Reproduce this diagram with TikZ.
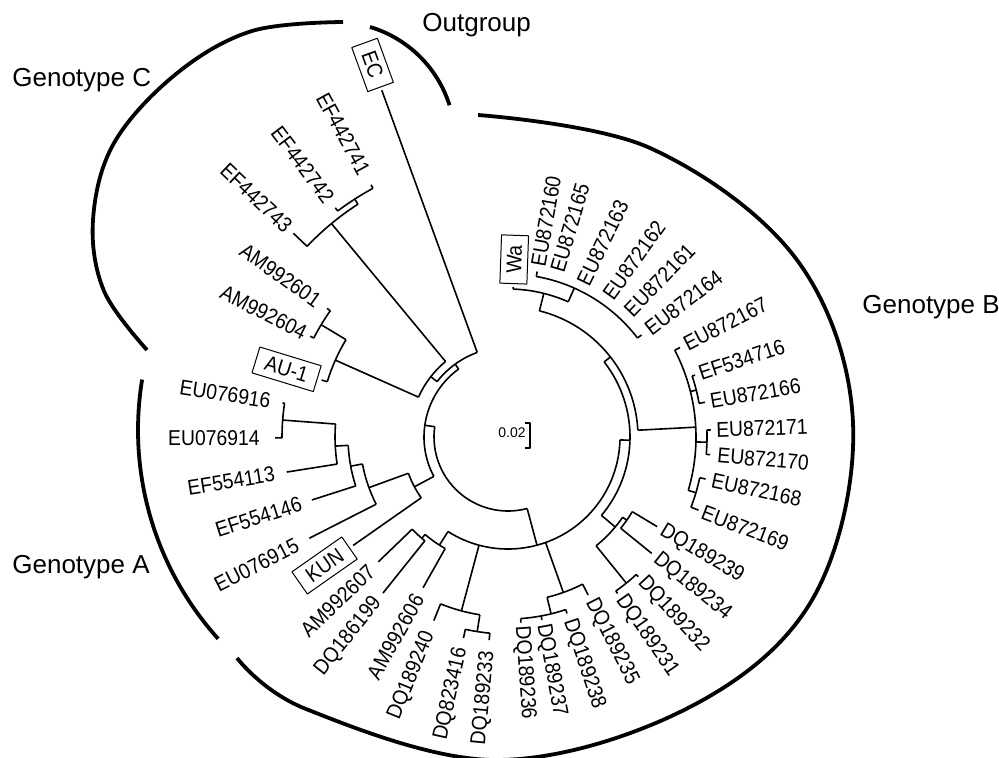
\documentclass[tikz,border=0pt]{standalone}
\usepackage{fontspec}
\setmainfont{Liberation Sans}
\newfontfamily\tipfont[FakeStretch=0.9]{Liberation Sans}
\begin{document}
\begin{tikzpicture}[x=0.5pt,y=0.5pt,line join=round]
\tikzset{
  branch/.style={line width=0.8pt},
  bracket/.style={line width=1.9pt},
  tip/.style={font=\tipfont\fontsize{10.75}{12}\selectfont, inner sep=0pt},
  tipbox/.style={tip, draw, line width=0.5pt, inner xsep=5pt, inner ysep=3pt},
  group/.style={font=\fontsize{13}{15}\selectfont, inner sep=0pt, anchor=base west}
}
\useasboundingbox (0,0) rectangle (999,757);
\clip (0,0) rectangle (999,757);

\coordinate (O) at (508,320);

% genotype brackets
\draw[bracket] plot[smooth, tension=0.6] coordinates {(343,735) (252,726) (176,683)
  (114,614) (93,537) (104,466) (147,407)};
\draw[bracket] (336,616) ++(17.5:119) arc[start angle=17.5, end angle=73.4, radius=119];
\draw[bracket] (450,327) ++(170.7:312) arc[start angle=170.7, end angle=222, radius=312];
\draw[bracket] plot[smooth, tension=0.6] coordinates {(478,642) (650,609) (797,497)
  (853,334) (812,157) (686,48) (496,-3) (306,48) (237,99)};

\node[group] (gC) at (12,670) {Genotype C};
\node[group] (out) at (422,725) {Outgroup};
\node[group] (gB) at (862,444) {Genotype B};
\node[group] (gA) at (12,184) {Genotype A};

\begin{scope}[shift={(O)}]
% stems
\foreach \a/\ra/\rb in {66/148/163, 76/130/148, 3/130/188, 14/188/194, -1.5/188/199,
  -16.5/188/196, 38/122/130, -40/122/140, -35/140/145, -51/140/188, -1.5/112/122,
  289.6/112/165, 283.7/165/182, 255/112/180, 261/180/197, 237.6/112/128, 229.6/128/133,
  285/74/112, 172/74/84, 126/84/90, 142/90/98, 129.6/98/277, 122.8/277/283, 156/98/189,
  149/189/218, 208/84/106, 200/106/148, 190.5/148/160, 183/160/173, 175.7/173/226}
  \draw[branch] (\a:\ra) -- (\a:\rb);
% node arcs
\foreach \r/\a/\b in {163/37.4/80, 148/66/88, 130/3/76, 188/-16.5/27.5, 194/10/18.3,
  199/-5/2, 196/-21/-12, 122/-40/38, 140/-51/-35, 145/-39/-31, 188/-55/-47,
  112/237.6/358.5, 165/283.7/296.9, 182/274/288.5, 180/248/261, 197/257.5/264.7,
  128/229.6/240.6, 133/223.9/231.3, 74/172/285, 84/126/208, 90/110/142, 98/129.6/156,
  277/122.8/136.5, 283/118.5/127, 189/149/163, 218/144.6/153, 106/200/215,
  148/190.5/207, 160/183/197.8, 173/175.7/189, 226/171.4/180.2}
  \draw[branch] (\a:\r) arc[start angle=\a, end angle=\b, radius=\r];

% leaves, right half
\foreach \n/\a/\rp/\rt/\rl in {EU872160/80/163/168/173, EU872165/73.5/163/163/172,
  EU872163/64/163/163/170, EU872162/54.5/163/163/171, EU872161/46/163/163/172,
  EU872164/37.4/163/168/175, EU872167/27.5/188/194/199, EF534716/18.3/194/197/201,
  EU872166/10/194/200/205, EU872171/2/199/203/208, EU872170/-5/199/203/210,
  EU872168/-12/196/202/208, EU872169/-21/196/204/208, DQ189239/-31/145/174/179,
  DQ189234/-39/145/185/190, DQ189232/-47/188/191/195, DQ189231/-55/188/191/195,
  DQ189235/-63.1/165/177/182, DQ189238/-71.5/182/186/192, DQ189237/-79.5/182/186/190,
  DQ189236/-86/182/186/189}{
  \draw[branch] (\a:\rp) -- (\a:\rt);
  \node[tip, anchor=west, rotate=\a] (\n) at (\a:\rl) {\n};
}
% leaves, left half
\foreach \n/\a/\rp/\rt/\rl in {DQ189233/264.7/197/204/215, DQ823416/257.5/197/206/216,
  DQ189240/248/180/198/210, AM992606/240.6/128/173/182, DQ186199/231.3/133/200/208,
  AM992607/223.9/133/180/189, EU076915/207/148/223/236, EF554146/197.8/160/206/217,
  EF554113/189/173/224/236, EU076914/180.2/226/233/248, EU076916/171.4/226/228/240,
  AM992604/153/218/222/227, AM992601/144.6/218/222/232, EF442743/136.5/277/296/302,
  EF442742/127/283/287/296, EF442741/118.5/283/287/300}{
  \draw[branch] (\a:\rp) -- (\a:\rt);
  \node[tip, anchor=east, rotate=\a+180] (\n) at (\a:\rl) {\n};
}
% reference strains
\draw[branch] (88:148) -- (88:150);
\node[tipbox, anchor=west, rotate=88] (Wa) at (88:153) {Wa};
\draw[branch] (215:106) -- (215:189);
\node[tipbox, anchor=east, rotate=35] (KUN) at (215:193) {KUN};
\draw[branch] (163:189) -- (163:195);
\node[tipbox, anchor=east, rotate=343] (AU-1) at (163:199) {AU-1};
\draw[branch] (110:90) -- (110:369);
\node[tipbox, anchor=east, rotate=290] (EC) at (110:372) {EC};
\end{scope}

% scale
\node[font=\fontsize{7}{8}\selectfont, inner sep=0pt] (scale) at (512,324) {0.02};
\draw[branch] (525,334) -- (530,334) -- (530,309) -- (525,309);
\end{tikzpicture}
\end{document}
